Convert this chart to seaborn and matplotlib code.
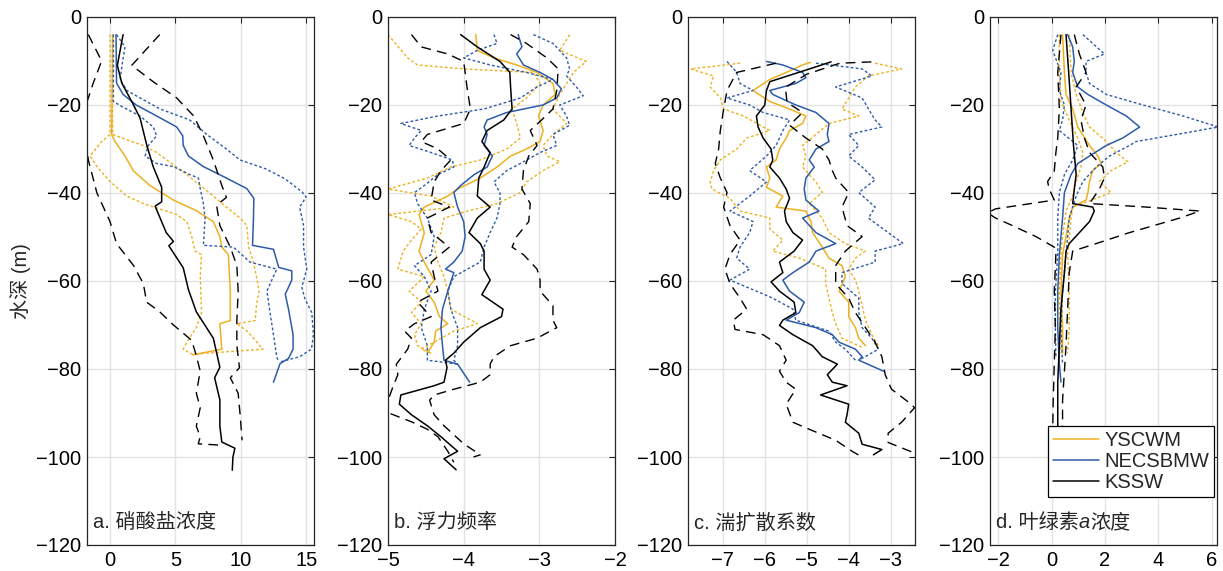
import numpy as np
import pandas as pd
import matplotlib
matplotlib.use("Agg")
import matplotlib.pyplot as plt
import seaborn as sns

# ---------------- data: (depth m, value) ----------------
# a. nitrate
a_ys_mean = [(-4,0.2),(-26.7,0.13),(-28.3,0.38),(-31.6,1.15),(-35,1.8),(-38.3,3.05),(-41.6,4.85),(-44,6.6),(-46.5,7.9),(-49.9,8.4),(-52.3,8.55),(-54,9.05),(-62.3,9.2),(-69,9.2),(-69.7,8.4),(-75.5,8.55),(-76.8,6.3)]
a_ys_lo = [(-4,0.0),(-26.7,0.0),(-28.3,-0.64),(-31.6,-1.53),(-34,-1.0),(-37.4,0.0),(-40.7,1.28),(-42.4,2.55),(-44.9,5.1),(-46.5,5.87),(-49.9,6.25),(-53.2,6.5),(-54,7.0),(-59,6.9),(-67.2,7.0),(-70.6,6.6),(-73.9,5.87),(-75.5,5.6),(-76.8,6.4)]
a_ys_hi = [(-4,0.2),(-26.7,0.2),(-27.9,1.28),(-29.2,2.55),(-30.8,3.57),(-32.5,4.34),(-35.8,5.87),(-38.3,6.9),(-40.7,7.9),(-43.2,8.9),(-45.7,9.95),(-47.4,10.46),(-52.3,10.6),(-55.7,10.97),(-59,11.2),(-62.3,11.4),(-65.6,11.2),(-69,11.1),(-69.7,9.7),(-71.4,10.5),(-75.5,11.7),(-76.6,6.5)]
a_ne_mean = [(-4,0.46),(-15,0.5),(-17.6,1.0),(-20,2.0),(-22.5,3.57),(-25,5.1),(-27,5.56),(-29.2,5.6),(-31.6,6.0),(-34,7.14),(-36.6,8.9),(-39,10.46),(-41.2,11.0),(-45.7,10.97),(-51.9,10.9),(-52.8,12.5),(-56.9,12.9),(-57.7,13.9),(-59.8,13.9),(-63,13.4),(-66.4,13.65),(-72.2,14.0),(-75.5,14.0),(-77.6,13.65),(-78.8,13.0),(-83,12.5)]
a_ne_lo = [(-4,0.26),(-19.2,0.26),(-20.5,1.0),(-22.5,2.3),(-25,3.3),(-27,3.57),(-29.2,2.93),(-31.6,2.68),(-33.3,3.57),(-34,4.85),(-35.8,6.1),(-36.6,6.76),(-39,6.9),(-42.4,7.14),(-45.7,7.27),(-51.9,7.14),(-52.3,9.44),(-55.7,10.7),(-57.3,12.75),(-59.8,12.37),(-62.3,12.0),(-67.2,12.24),(-72.2,12.5),(-77.2,12.75),(-78.4,12.9)]
a_ne_hi = [(-4,0.5),(-6.8,1.15),(-9.3,1.0),(-14.2,0.77),(-16.7,1.28),(-18.4,2.3),(-20.9,3.83),(-23.4,6.1),(-26.7,7.4),(-30,8.9),(-32.5,9.95),(-34.5,11.9),(-36.8,13.4),(-39.8,14.7),(-40.9,15.0),(-43.2,14.5),(-47.4,14.8),(-52.3,14.8),(-57.3,15.05),(-61.4,14.67),(-64,14.9),(-67.2,15.43),(-72.2,15.56),(-75.5,15.4),(-77.2,14.5),(-78.4,13.0)]
a_ks_mean = [(-4,1.0),(-11,0.56),(-15,0.9),(-20,1.8),(-23,2.3),(-29,2.8),(-34,3.3),(-38.7,3.95),(-42,3.95),(-43,3.45),(-49,4.3),(-51,4.85),(-52,4.5),(-57,5.6),(-62,6.0),(-67,6.6),(-73,7.9),(-79.6,8.4),(-82,8.0),(-87,8.4),(-93,8.4),(-96.6,8.55),(-98,9.55),(-100,9.4),(-103,9.35)]
a_ks_lo = [(-4,-1.66),(-10,-0.64),(-15,-1.28),(-20,-1.84),(-27.5,-1.84),(-32.5,-1.66),(-40,-1.0),(-46.5,0.0),(-51.5,0.5),(-56.5,1.8),(-60.6,2.55),(-64.8,2.8),(-67,3.8),(-70,4.85),(-73.5,6.25),(-77,6.6),(-80.5,6.9),(-85.5,6.6),(-88.8,6.9),(-93,6.6),(-95.4,6.9),(-97,6.75),(-97.3,8.4)]
a_ks_hi = [(-4,3.8),(-11,1.66),(-14.7,3.3),(-18.4,5.1),(-22.5,6.4),(-26.7,7.1),(-32.5,7.9),(-38.3,8.55),(-41,8.9),(-42.8,8.15),(-47.4,8.4),(-52.3,9.2),(-56.5,9.7),(-62.3,9.8),(-69,9.7),(-74.7,9.7),(-79.7,9.9),(-82,9.2),(-85.5,9.8),(-90.4,9.95),(-96.2,10.1)]

# b. buoyancy frequency
b_ys_mean = [(-4,-3.84),(-7.6,-3.82),(-9.3,-3.6),(-10.9,-3.3),(-12.6,-3.03),(-15.1,-2.82),(-17.6,-2.79),(-20,-2.95),(-22.5,-3.01),(-25.8,-2.95),(-28.3,-2.99),(-30,-3.17),(-31.6,-3.38),(-34.1,-3.56),(-36.6,-3.78),(-39.1,-4.08),(-40.7,-4.21),(-43.2,-4.52),(-44.9,-4.59),(-49,-4.52),(-53.2,-4.59),(-55.7,-4.52),(-59.8,-4.39),(-62.3,-4.5),(-64.8,-4.39),(-68.1,-4.32),(-69.7,-4.21),(-71.4,-4.37),(-73.9,-4.39),(-76.4,-4.48)]
b_ys_lo = [(-4,-5.0),(-9.3,-4.74),(-10.9,-4.61),(-11.8,-4.0),(-12.6,-3.08),(-15.1,-2.99),(-18.4,-3.17),(-20.9,-3.36),(-24.2,-3.3),(-27.5,-3.25),(-30,-3.43),(-32.5,-3.78),(-34.1,-4.17),(-36.6,-4.48),(-39.1,-5.0),(-40.7,-4.43),(-43.2,-4.13),(-44.9,-5.0),(-46.5,-4.69),(-48.2,-4.56),(-50.7,-4.69),(-53.2,-4.8),(-57.3,-4.87),(-59,-4.52),(-62.3,-4.72),(-64.8,-4.56),(-67.2,-4.69),(-69.7,-4.56),(-72.2,-4.65),(-74.7,-4.61),(-76.4,-4.43)]
b_ys_hi = [(-4,-2.6),(-7.6,-2.73),(-10.1,-2.38),(-12.6,-2.55),(-15.1,-2.64),(-17.6,-2.73),(-20.9,-2.82),(-24.2,-2.64),(-26.7,-2.82),(-29.2,-2.95),(-31.6,-2.9),(-32.9,-2.73),(-34.9,-2.95),(-37.5,-3.17),(-39.9,-3.25),(-42.4,-3.56),(-44.1,-3.95),(-45.7,-4.26),(-49,-4.3),(-52.3,-4.39),(-55.7,-4.34),(-59,-4.26),(-62.3,-4.21),(-66.4,-4.17),(-69.7,-3.82),(-71.4,-4.13),(-73.9,-4.39),(-75.5,-4.56),(-76.4,-4.43)]
b_ne_mean = [(-4,-3.28),(-6.8,-3.23),(-8.4,-3.3),(-10.9,-3.21),(-12.6,-2.99),(-14.2,-2.82),(-16.3,-2.71),(-18.4,-2.77),(-20,-2.95),(-21.7,-3.43),(-23.4,-3.69),(-25,-3.73),(-26.7,-3.69),(-29.2,-3.73),(-31.6,-3.62),(-34.1,-3.69),(-35.8,-3.86),(-38.3,-4.04),(-39.9,-4.13),(-43.2,-4.08),(-46.5,-4.0),(-49.9,-3.98),(-53.2,-4.02),(-55.7,-4.13),(-57.3,-4.24),(-58.1,-4.13),(-62.3,-4.21),(-66.4,-4.28),(-70.6,-4.3),(-74.7,-4.28),(-78,-4.26),(-78.9,-4.08),(-83,-3.92)]
b_ne_lo = [(-4,-3.6),(-6,-3.56),(-7.6,-3.82),(-9.3,-4.0),(-10.9,-3.65),(-12.6,-3.17),(-14.2,-2.82),(-15.9,-3.03),(-18.4,-3.25),(-20.9,-3.73),(-22.5,-4.34),(-24.2,-4.83),(-25.8,-4.56),(-27.5,-4.65),(-29.2,-4.72),(-30.8,-4.43),(-32.5,-4.15),(-34.1,-4.13),(-35.8,-4.34),(-38.3,-4.52),(-39.9,-4.65),(-42.4,-4.61),(-45.7,-4.48),(-49.9,-4.39),(-54,-4.43),(-56.5,-4.65),(-59,-4.52),(-62.3,-4.43),(-66.4,-4.52),(-70.6,-4.56),(-74.7,-4.48),(-78,-4.48),(-78.9,-4.08)]
b_ne_hi = [(-4,-3.08),(-6,-2.82),(-9.3,-2.64),(-11.8,-2.6),(-13.4,-2.64),(-15.9,-2.51),(-17.9,-2.42),(-20,-2.73),(-22.5,-2.64),(-24.6,-2.6),(-26.7,-2.82),(-29.2,-2.77),(-30.8,-2.99),(-33.3,-3.25),(-34.9,-3.43),(-37.5,-3.6),(-39.9,-3.52),(-42.4,-3.52),(-45.7,-3.56),(-49,-3.65),(-52.3,-3.73),(-55.7,-3.78),(-59,-4.13),(-62.3,-4.21),(-66.4,-4.17),(-70.6,-4.08),(-74.7,-4.08),(-78,-4.13),(-78.9,-4.08)]
b_ks_mean = [(-4,-4.04),(-6.8,-3.82),(-10.1,-3.52),(-12.6,-3.39),(-15.9,-3.38),(-20.9,-3.36),(-23.4,-3.47),(-25.8,-3.69),(-28.3,-3.76),(-30.8,-3.65),(-34.1,-3.73),(-36.6,-3.8),(-40.7,-3.82),(-43.2,-3.65),(-45.7,-3.82),(-49,-3.93),(-51.5,-3.78),(-53.2,-3.73),(-57.3,-3.73),(-59.8,-3.65),(-63.1,-3.76),(-66.4,-3.48),(-68.1,-3.5),(-70.6,-3.78),(-73.9,-4.0),(-76.4,-4.13),(-78,-4.24),(-79.7,-4.22),(-83,-4.26),(-83.8,-4.39),(-85.9,-4.83),(-88,-4.85),(-90.4,-4.69),(-92.9,-4.48),(-95.4,-4.3),(-98.7,-4.08),(-100.4,-4.26),(-102.9,-4.1)]
b_ks_lo = [(-4,-4.69),(-6.8,-4.56),(-8.4,-4.21),(-10.1,-4.0),(-16.7,-3.95),(-20.9,-3.91),(-24.2,-4.0),(-26.7,-4.48),(-28.3,-4.56),(-30,-4.34),(-32.5,-4.17),(-34.9,-4.3),(-37.5,-4.39),(-41.6,-4.43),(-43.2,-4.19),(-45.7,-4.48),(-49,-4.43),(-52.3,-4.19),(-55.7,-4.43),(-59,-4.39),(-62.3,-4.34),(-64.8,-4.61),(-68.1,-4.43),(-69.7,-4.65),(-71.4,-4.78),(-73,-4.69),(-75.5,-4.74),(-78.9,-4.89),(-81.3,-4.87),(-83.8,-4.93),(-89.6,-5.05),(-92,-4.69),(-93.7,-4.48),(-95.4,-4.34),(-98.7,-4.21),(-101.2,-4.13)]
b_ks_hi = [(-4,-3.38),(-6,-3.17),(-9.3,-2.9),(-11.8,-2.75),(-16.7,-2.77),(-20.9,-2.82),(-23.4,-2.97),(-25.8,-3.12),(-29.2,-3.03),(-31.6,-3.14),(-34.9,-3.21),(-39.1,-3.23),(-42.4,-3.12),(-46.5,-3.14),(-49.9,-3.3),(-52.3,-3.36),(-54,-3.21),(-57.3,-3.03),(-59.8,-2.99),(-62.3,-2.99),(-65.6,-2.82),(-68.9,-2.82),(-70.6,-2.77),(-73,-3.03),(-74.7,-3.38),(-77.2,-3.6),(-78.9,-3.65),(-81.3,-3.65),(-83,-3.78),(-84.6,-4.13),(-85.9,-4.39),(-87.1,-4.45),(-90.4,-4.39),(-92.9,-4.26),(-97,-4.0),(-99.5,-3.78),(-100,-3.87)]

# c. turbulent diffusivity
c_ys_mean = [(-10.3,-4.91),(-10.9,-5.1),(-12.6,-5.49),(-14.2,-5.88),(-16.7,-6.28),(-19.2,-5.88),(-20.9,-5.41),(-22.5,-5.02),(-24.2,-5.1),(-25.8,-5.41),(-27.5,-5.49),(-30,-5.65),(-32.5,-5.73),(-34.1,-5.96),(-36.6,-5.88),(-38.7,-5.96),(-40.7,-5.57),(-43.2,-5.73),(-44.1,-5.02),(-46.5,-4.9),(-49,-4.86),(-52.3,-4.63),(-54.8,-4.47),(-56.5,-4.16),(-59,-4.08),(-62.3,-4.23),(-64.8,-4.0),(-68.1,-4.0),(-70.6,-3.84),(-73,-3.76),(-74.7,-3.6)]
c_ys_lo = [(-10.5,-6.59),(-11.8,-7.77),(-13.4,-7.22),(-15.9,-7.3),(-18.4,-7.06),(-20.9,-6.98),(-22.5,-6.51),(-25.8,-5.88),(-27.5,-6.43),(-30,-6.67),(-32.5,-7.06),(-34.9,-7.22),(-37.5,-7.3),(-39.1,-7.26),(-41.2,-6.83),(-44.1,-6.59),(-45.7,-5.88),(-48.2,-5.88),(-50.7,-5.57),(-53.2,-5.81),(-54.8,-5.18),(-57.3,-4.55),(-60.6,-4.55),(-63.9,-4.47),(-67.2,-4.39),(-69.7,-4.31),(-73,-4.16),(-75.1,-3.68)]
c_ys_hi = [(-10.5,-3.37),(-11.8,-2.74),(-13.4,-3.53),(-15.9,-3.84),(-18.4,-4.0),(-20.9,-4.16),(-22.5,-3.76),(-24.2,-4.47),(-26.7,-4.78),(-29.2,-5.1),(-31.6,-5.02),(-34.1,-5.1),(-37.5,-4.78),(-39.9,-4.63),(-42.4,-4.94),(-45.7,-4.63),(-49,-4.47),(-51.5,-4.08),(-53.2,-3.61),(-54.8,-3.84),(-57.3,-4.0),(-59.8,-3.84),(-62.3,-3.76),(-65.6,-3.68),(-68.9,-3.6),(-72.2,-3.45),(-74.7,-3.29)]
c_ne_mean = [(-10.1,-5.96),(-10.9,-5.57),(-12.6,-5.1),(-13.8,-5.02),(-15.1,-5.26),(-16.7,-5.88),(-17.6,-5.81),(-20,-5.26),(-21.7,-4.78),(-24.2,-4.47),(-26.7,-4.51),(-28.3,-4.47),(-30,-4.78),(-32.5,-4.94),(-34.1,-4.82),(-36.6,-5.02),(-39.1,-5.06),(-41.6,-5.02),(-44.1,-4.71),(-45.7,-5.1),(-49,-4.78),(-51.5,-4.31),(-53.2,-4.78),(-55.7,-4.94),(-58.1,-5.33),(-59.8,-5.57),(-62.3,-5.41),(-64.8,-5.06),(-67.2,-5.18),(-68.9,-5.49),(-70.6,-4.78),(-72.2,-4.39),(-73.9,-4.23),(-75.5,-3.84),(-77.2,-3.68),(-78,-3.76),(-80.5,-3.17)]
c_ne_lo = [(-10.1,-6.9),(-12.6,-6.67),(-15.1,-6.59),(-16.7,-6.28),(-18.4,-6.9),(-20,-6.36),(-21.7,-6.04),(-23.4,-5.41),(-25.8,-5.57),(-29.2,-5.73),(-31.6,-5.96),(-34.9,-6.36),(-37.5,-5.96),(-40.7,-6.36),(-44.1,-6.83),(-46.5,-6.28),(-49,-6.36),(-52.3,-6.59),(-54.8,-6.67),(-57.3,-6.36),(-59.8,-6.83),(-62.3,-6.2),(-63.9,-5.81),(-66.4,-5.33),(-68.9,-5.26),(-71.4,-4.47),(-73.9,-4.31),(-75.5,-4.08),(-78,-3.84)]
c_ne_hi = [(-10.5,-4.78),(-11.8,-3.68),(-13.4,-3.45),(-15.9,-4.31),(-18.4,-3.68),(-20.9,-3.53),(-23.4,-3.37),(-25,-3.21),(-26.7,-4.0),(-29.2,-3.76),(-31.6,-4.0),(-34.1,-3.68),(-37,-3.37),(-39.9,-3.76),(-43.2,-3.37),(-45.7,-3.53),(-49,-3.06),(-51.5,-2.7),(-53.2,-3.37),(-55.7,-3.37),(-58.1,-4.16),(-60.6,-4.16),(-63.9,-3.76),(-67.2,-3.76),(-70.6,-3.68),(-73,-3.45),(-75.5,-3.29),(-78,-3.76)]
c_ks_mean = [(-10.2,-4.42),(-12,-5.0),(-14.7,-5.88),(-16.7,-5.96),(-20,-6.0),(-22.5,-6.2),(-25,-6.16),(-27.5,-6.04),(-30,-5.85),(-32.5,-5.81),(-34.1,-5.88),(-36.6,-5.65),(-39.1,-5.49),(-41.2,-5.41),(-44.1,-5.53),(-46.5,-5.49),(-49,-5.33),(-50.7,-5.1),(-53.2,-5.3),(-55.7,-5.65),(-58.1,-5.57),(-60.2,-5.85),(-62.3,-5.65),(-64.8,-5.3),(-67.2,-5.26),(-68.9,-5.57),(-70.1,-5.65),(-72.2,-5.33),(-74.7,-4.86),(-77.2,-4.63),(-78.9,-4.27),(-81.3,-4.51),(-83,-4.39),(-83.8,-4.04),(-85.9,-4.67),(-88,-4.0),(-90.4,-4.04),(-92.1,-4.08),(-94.6,-3.76),(-97.1,-3.68),(-98.3,-3.21),(-99.5,-3.41)]
c_ks_lo = [(-10.5,-5.73),(-12.6,-6.67),(-16.7,-6.9),(-20.9,-6.98),(-25.8,-7.06),(-30,-7.1),(-33.3,-7.18),(-36.6,-7.06),(-39.9,-6.9),(-43.2,-6.98),(-47.4,-6.83),(-50.7,-6.59),(-54,-6.83),(-57.3,-6.95),(-60.6,-6.83),(-63.9,-6.59),(-66.4,-6.43),(-68.9,-6.75),(-71,-6.71),(-72.2,-6.04),(-74.7,-5.65),(-78,-5.49),(-80.5,-5.65),(-83,-5.49),(-84.6,-5.26),(-88,-5.49),(-92.1,-5.33),(-93.7,-4.94),(-96.2,-4.31),(-98.7,-3.92),(-100,-3.68)]
c_ks_hi = [(-10.2,-3.46),(-10.5,-4.21),(-13,-5.0),(-16,-5.51),(-19.4,-5.47),(-21.7,-5.1),(-24.6,-5.41),(-27.5,-5.02),(-30,-4.63),(-32.5,-4.47),(-34.9,-4.39),(-36.6,-4.31),(-39.9,-4.0),(-43.2,-4.16),(-47.4,-4.04),(-49.9,-3.68),(-53.2,-4.08),(-56.5,-4.31),(-60.6,-4.31),(-63.9,-4.0),(-67.2,-3.84),(-70.6,-3.6),(-73.9,-3.37),(-77.2,-3.21),(-81.3,-3.13),(-84.6,-2.98),(-88,-2.51),(-88.8,-2.43),(-92.1,-2.74),(-94.6,-3.06),(-96.7,-3.06),(-99.1,-2.43)]

# d. chlorophyll a
d_ys_mean = [(-4,0.41),(-12.6,0.48),(-17.6,0.54),(-20.9,0.79),(-25,0.98),(-29.2,1.42),(-31.6,1.73),(-33.3,1.86),(-34.9,1.54),(-37.4,1.42),(-39.9,1.36),(-41.6,1.29),(-43.2,0.79),(-45.7,0.66),(-49.9,0.54),(-54,0.41),(-62.3,0.35),(-70.6,0.41),(-76.4,0.41)]
d_ys_lo = [(-4,0.29),(-12.6,0.29),(-19.2,0.35),(-23.4,0.66),(-27.5,0.98),(-30.8,1.17),(-34.1,1.1),(-37.4,0.92),(-40.7,0.79),(-44.1,0.54),(-49.9,0.41),(-54,0.35),(-62.3,0.29),(-70.6,0.31),(-76.4,0.35)]
d_ys_hi = [(-4,0.66),(-12.6,0.73),(-17.6,0.92),(-21.7,1.17),(-25,1.42),(-27.9,1.98),(-30.8,2.42),(-32.9,2.86),(-34.9,2.23),(-37.4,1.79),(-39.9,2.23),(-41.2,1.67),(-43.2,0.79),(-45.7,0.73),(-54,0.6),(-62.3,0.66),(-70.6,0.66),(-76.4,0.6)]
d_ne_mean = [(-4,0.6),(-6.8,0.79),(-10.1,0.85),(-12.6,0.79),(-15.9,0.98),(-17.6,1.36),(-20,2.05),(-22.5,2.8),(-25,3.3),(-27.5,2.67),(-29.2,2.05),(-31.6,1.42),(-33.3,0.98),(-35.8,0.73),(-39.9,0.48),(-45.7,0.41),(-54,0.29),(-62.3,0.23),(-70.6,0.23),(-78.9,0.29),(-83,0.35)]
d_ne_lo = [(-4,0.23),(-7.6,0.04),(-12.6,0.35),(-16.7,0.29),(-20,0.48),(-23.4,0.41),(-25.8,0.29),(-29.2,0.98),(-32.5,0.79),(-35.8,0.48),(-39.9,0.29),(-45.7,0.23),(-54,0.23),(-62.3,0.14),(-70.6,0.14),(-77.2,0.16)]
d_ne_hi = [(-4,1.17),(-8.4,1.98),(-10.1,1.29),(-12.6,1.29),(-15.1,1.42),(-17.6,2.05),(-20,3.43),(-22.5,4.93),(-25,6.25),(-26.7,4.68),(-28.3,3.17),(-29.2,2.92),(-31.6,2.17),(-34.1,1.67),(-37.4,1.17),(-40.7,0.92),(-45.7,0.66),(-54,0.54),(-62.3,0.41),(-70.6,0.35),(-78.9,0.41)]
d_ks_mean = [(-4,0.54),(-12.6,0.64),(-20.9,0.73),(-29.2,0.82),(-35.8,0.92),(-39.1,0.85),(-42.4,0.79),(-43.2,1.54),(-44.1,1.6),(-46.5,1.42),(-49,1.04),(-51.5,0.66),(-53.2,0.54),(-58.1,0.48),(-66.4,0.35),(-74.7,0.29),(-83,0.23),(-92.9,0.23),(-97,0.2)]
d_ks_lo = [(-4,0.35),(-12.6,0.23),(-20.9,0.29),(-27.5,0.23),(-30.8,0.16),(-35,0.1),(-37.4,-0.15),(-39.1,-0.09),(-41.6,0.1),(-43.6,-2.1),(-44.5,-2.4),(-45.7,-2.1),(-47.4,-1.47),(-49.9,-0.59),(-52.3,0.1),(-54,0.16),(-62.3,0.1),(-70.6,0.14),(-78.9,0.1),(-87.1,0.06),(-94,0.04)]
d_ks_hi = [(-4,0.85),(-8.4,1.04),(-12.6,1.29),(-15.9,0.92),(-20,1.29),(-23.4,1.1),(-27.5,1.23),(-30.8,1.42),(-34.1,1.92),(-36.6,1.98),(-39.1,1.79),(-42.4,1.42),(-43.2,3.55),(-44.1,5.56),(-45.7,4.8),(-49,2.92),(-51.5,1.67),(-53.2,0.79),(-58.1,0.66),(-66.4,0.6),(-74.7,0.54),(-80.5,0.48),(-87.1,0.41),(-94,0.41)]

masses = ["YSCWM", "NECSBMW", "KSSW"]
panel_titles = ["a. 硝酸盐浓度", "b. 浮力频率", "c. 湍扩散系数", None]
x_limits = [(-1.76, 15.6), (-5, -2), (-7.83, -2.42), (-2.31, 6.2)]
x_ticks = [[0, 5, 10, 15], [-5, -4, -3, -2], [-7, -6, -5, -4, -3], [-2, 0, 2, 4, 6]]
y_ticks = [0, -20, -40, -60, -80, -100, -120]

# ---------------- style ----------------
sns.set_theme(style="white")
plt.rcParams["font.family"] = ["Liberation Sans", "Noto Sans CJK SC", "DejaVu Sans"]
plt.rcParams["axes.unicode_minus"] = True

colors = {"YSCWM": "#EDB120", "NECSBMW": "#2D5BA8", "KSSW": "#000000"}
bound_style = {"YSCWM": (0, (2.0, 1.6)), "NECSBMW": (0, (2.0, 1.6)), "KSSW": (0, (7, 4.5))}
FS = 14.5

panel_lines = [
    {"YSCWM": (a_ys_mean, a_ys_lo, a_ys_hi), "NECSBMW": (a_ne_mean, a_ne_lo, a_ne_hi), "KSSW": (a_ks_mean, a_ks_lo, a_ks_hi)},
    {"YSCWM": (b_ys_mean, b_ys_lo, b_ys_hi), "NECSBMW": (b_ne_mean, b_ne_lo, b_ne_hi), "KSSW": (b_ks_mean, b_ks_lo, b_ks_hi)},
    {"YSCWM": (c_ys_mean, c_ys_lo, c_ys_hi), "NECSBMW": (c_ne_mean, c_ne_lo, c_ne_hi), "KSSW": (c_ks_mean, c_ks_lo, c_ks_hi)},
    {"YSCWM": (d_ys_mean, d_ys_lo, d_ys_hi), "NECSBMW": (d_ne_mean, d_ne_lo, d_ne_hi), "KSSW": (d_ks_mean, d_ks_lo, d_ks_hi)},
]

W, H = 1223, 571
fig = plt.figure(figsize=(W / 100, H / 100), dpi=100)
lefts = [87, 388, 688, 990]
ax_w, top, bottom = 227, 17, 545
axes = [fig.add_axes([l / W, (H - bottom) / H, ax_w / W, (bottom - top) / H]) for l in lefts]


def to_df(arr):
    return pd.DataFrame(arr, columns=["depth", "value"])


for i, ax in enumerate(axes):
    handles = []
    for mass in masses:
        mean, lo, hi = panel_lines[i][mass]
        for arr in (lo, hi):
            sns.lineplot(data=to_df(arr), x="value", y="depth", ax=ax, sort=False,
                         estimator=None, orient="y", color=colors[mass], lw=1.0,
                         linestyle=bound_style[mass])
        sns.lineplot(data=to_df(mean), x="value", y="depth", ax=ax, sort=False,
                     estimator=None, orient="y", color=colors[mass], lw=1.1, linestyle="-")
        handles.append(ax.lines[-1])

    ax.set_xlim(*x_limits[i])
    ax.set_ylim(-120, 0)
    ax.set_xticks(x_ticks[i])
    ax.set_yticks(y_ticks)
    ax.set_xlabel("")
    ax.set_ylabel("")
    ax.grid(True, color="#E3E3E3", lw=1.0)
    ax.set_axisbelow(True)
    for s in ax.spines.values():
        s.set_color("#262626")
        s.set_linewidth(0.9)
    ax.tick_params(direction="in", length=4, width=0.8, top=True, right=True,
                   labelsize=FS, colors="#262626", labelcolor="black", pad=4)

    if panel_titles[i] is not None:
        ax.text(0.026, 0.042, panel_titles[i], transform=ax.transAxes, fontsize=FS,
                ha="left", va="center", color="#262626")
    else:
        t1 = ax.text(0.026, 0.042, "d. 叶绿素", transform=ax.transAxes, fontsize=FS,
                     ha="left", va="center", color="#262626")
        t2 = ax.annotate("a", xy=(1, 0.5), xycoords=t1, fontsize=FS, ha="left",
                         va="center", style="italic", color="#262626")
        ax.annotate("浓度", xy=(1, 0.5), xycoords=t2, fontsize=FS, ha="left",
                    va="center", color="#262626")
        leg = ax.legend(handles, masses, loc="lower right", bbox_to_anchor=(0.988, 0.091),
                        fontsize=FS, frameon=True, fancybox=False, framealpha=1,
                        edgecolor="black", handlelength=2.3, handletextpad=0.25,
                        borderpad=0.25, labelspacing=0.1, borderaxespad=0)
        leg.get_frame().set_linewidth(0.9)

axes[0].set_ylabel("水深 (m)", fontsize=FS)
axes[0].yaxis.set_label_coords(-0.245, 0.5)

fig.savefig("out.png", dpi=100)
